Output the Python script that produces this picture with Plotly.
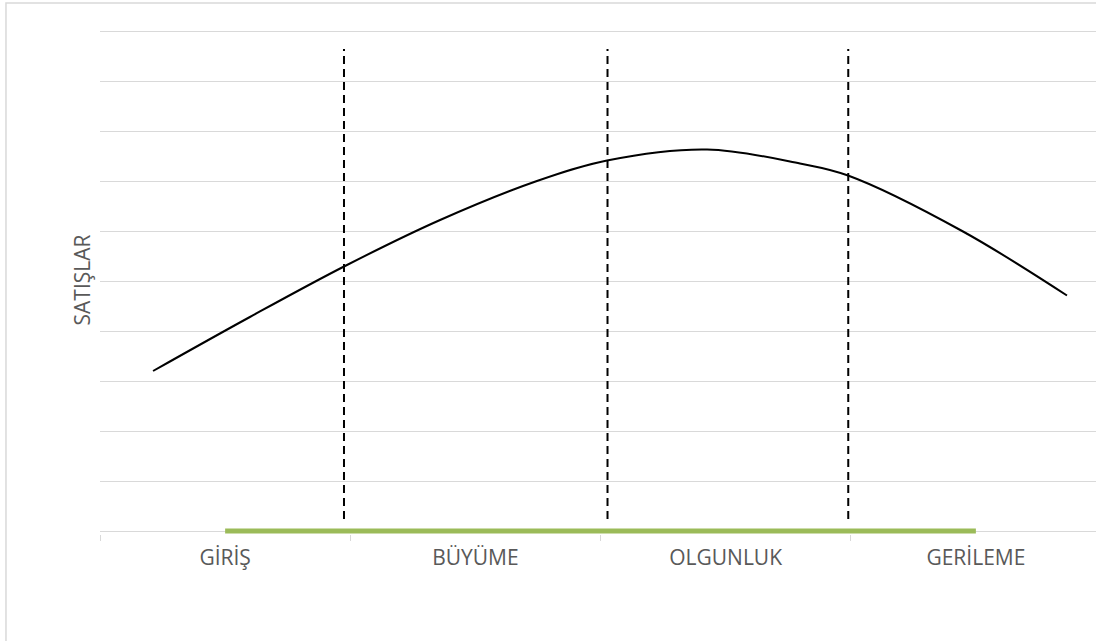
import plotly.graph_objects as go

# Categories (stages)
categories = ["GİRİŞ", "BÜYÜME", "OLGUNLUK", "GERİLEME"]
category_pos = [0.5, 1.5, 2.5, 3.5]
boundaries = [0, 1, 2, 3, 4]

# Sales curve
curve_x = [0.212, 0.599, 0.979, 1.359, 1.746, 2.026, 2.426, 2.797, 2.989, 3.445, 3.864]
curve_y = [3.20, 4.28, 5.30, 6.22, 7.00, 7.41, 7.63, 7.35, 7.11, 6.00, 4.71]

# Stage separators (dashed)
sep_x = [0.975, 2.028, 2.99]
sep_y = [0.24, 9.64]

# Green base line series
base_y = [0, 0, 0, 0]

fig = go.Figure()

fig.add_trace(go.Scatter(x=category_pos, y=base_y, mode="lines",
                         line=dict(color="#9BBB59", width=5),
                         hoverinfo="skip", showlegend=False))

for sx in sep_x:
    fig.add_trace(go.Scatter(x=[sx, sx], y=sep_y, mode="lines",
                             line=dict(color="black", width=2, dash="8px,5px"),
                             hoverinfo="skip", showlegend=False))

fig.add_trace(go.Scatter(x=curve_x, y=curve_y, mode="lines",
                         line=dict(color="black", width=2, shape="spline", smoothing=1.0),
                         hoverinfo="skip", showlegend=False))

fig.update_layout(
    width=1096, height=641,
    margin=dict(l=100, r=0, t=26, b=107),
    paper_bgcolor="white", plot_bgcolor="white",
    font=dict(family="Open Sans", color="#595959"),
    xaxis=dict(range=[0, 3.98], tickmode="array", tickvals=category_pos,
               ticktext=categories, ticks="", showgrid=False, showline=False,
               zeroline=False, tickfont=dict(size=21, color="#595959"),
               ticklabelstandoff=9,
               minor=dict(tickmode="array", tickvals=boundaries, ticks="outside",
                          ticklen=6, tickcolor="#d9d9d9", tickwidth=1, showgrid=False)),
    yaxis=dict(range=[-0.06, 10.1], tickmode="linear", tick0=0, dtick=1,
               showticklabels=False, ticks="", showgrid=True, gridcolor="#d9d9d9",
               gridwidth=1.3, zeroline=True, zerolinecolor="#d9d9d9", zerolinewidth=1.3,
               showline=False,
               title=dict(text="SATIŞLAR", font=dict(size=21, color="#595959"),
                          standoff=2)),
    shapes=[dict(type="rect", xref="paper", yref="paper",
                 x0=-0.0944, x1=1.02, y0=-0.25, y1=1.0453,
                 line=dict(color="#d9d9d9", width=1.5), fillcolor="rgba(0,0,0,0)",
                 layer="below")],
)

fig.write_html("out.html")
